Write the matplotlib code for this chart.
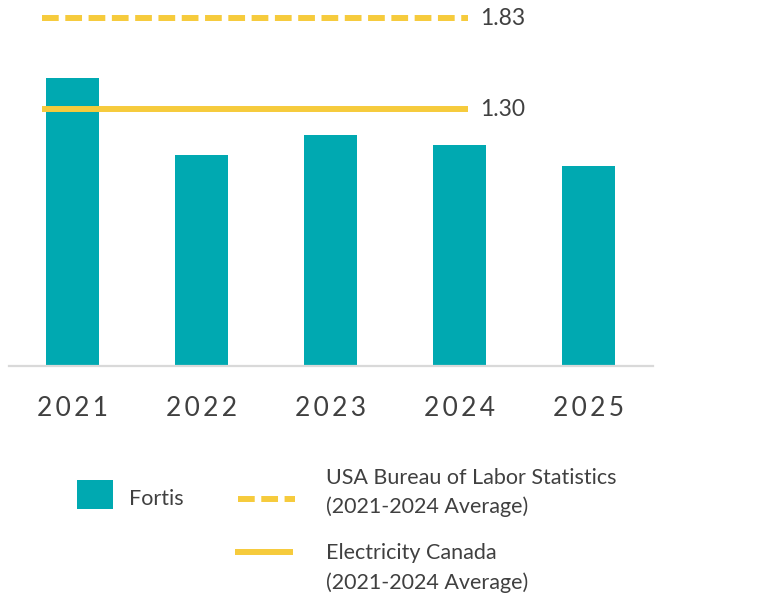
import matplotlib
matplotlib.use("Agg")
import matplotlib.pyplot as plt
from matplotlib.patches import Rectangle
from matplotlib.lines import Line2D

years = ["2021", "2022", "2023", "2024", "2025"]
fortis = [1.45, 1.06, 1.16, 1.11, 1.005]
bls_avg = 1.83
ec_avg = 1.30
legend_labels = ["Fortis", "USA Bureau of Labor Statistics\n(2021-2024 Average)",
                 "Electricity Canada\n(2021-2024 Average)"]

TEAL = "#00A9B1"
YELLOW = "#F6CB3C"
TXT = "#404040"
plt.rcParams['font.family'] = ['Lato', 'DejaVu Sans']

W, H = 779, 597
fig = plt.figure(figsize=(W / 100, H / 100), dpi=100)
ax = fig.add_axes([8.5 / W, (H - 365.7) / H, (652.5 - 8.5) / W, 365.7 / H])
x = list(range(len(years)))
ax.bar(x, fortis, width=0.41, color=TEAL, zorder=2)
ax.set_xlim(-0.5, 4.5)
ax.set_ylim(0, 1.84)
ax.set_yticks([])
ax.set_xticks(x)
ax.set_xticklabels(["\u2009".join(list(y)) for y in years], fontsize=19, color=TXT)
ax.tick_params(axis='x', length=0, pad=22)
for s in ["top", "right", "left"]:
    ax.spines[s].set_visible(False)
ax.spines["bottom"].set_color("#D9D9D9")
ax.spines["bottom"].set_linewidth(1.6)
ax.patch.set_alpha(0)

ax2 = ax.twinx()
ax2.set_ylim(-0.2, 1.937)
ax2.set_yticks([])
for s in ax2.spines.values():
    s.set_visible(False)
x0, x1 = -0.237, 3.07
ax2.plot([x0, x1], [bls_avg, bls_avg], color=YELLOW, lw=4.3, linestyle=(0, (2.8, 1.1)),
         solid_capstyle='butt', dash_capstyle='butt', zorder=3)
ax2.plot([x0, x1], [ec_avg, ec_avg], color=YELLOW, lw=4.3, solid_capstyle='butt', zorder=3)
ax2.text(3.165, bls_avg, f"{bls_avg:.2f}", fontsize=16.5, color=TXT, va='center', ha='left')
ax2.text(3.165, ec_avg, f"{ec_avg:.2f}", fontsize=16.5, color=TXT, va='center', ha='left')

# legend (manual)
def fy(py):
    return (H - py) / H
def fx(px):
    return px / W

fig.patches.append(Rectangle((fx(76.5), fy(509)), 36 / W, 29 / H, transform=fig.transFigure,
                             facecolor=TEAL, edgecolor='none'))
fig.text(fx(129), fy(499), legend_labels[0], fontsize=15.5, color=TXT, va='center', ha='left')
fig.lines.append(Line2D([fx(237.5), fx(295)], [fy(499), fy(499)], transform=fig.transFigure,
                        color=YELLOW, lw=4.3, linestyle=(0, (2.8, 1.1)), dash_capstyle='butt'))
fig.text(fx(326.5), fy(492.5), legend_labels[1], fontsize=15.5, color=TXT, va='center', ha='left',
         linespacing=1.55)
fig.lines.append(Line2D([fx(235), fx(292.5)], [fy(551.7), fy(551.7)], transform=fig.transFigure,
                        color=YELLOW, lw=4.3, solid_capstyle='butt'))
fig.text(fx(326.5), fy(568.3), legend_labels[2], fontsize=15.5, color=TXT, va='center', ha='left',
         linespacing=1.55)

fig.savefig("out.png", dpi=100)
